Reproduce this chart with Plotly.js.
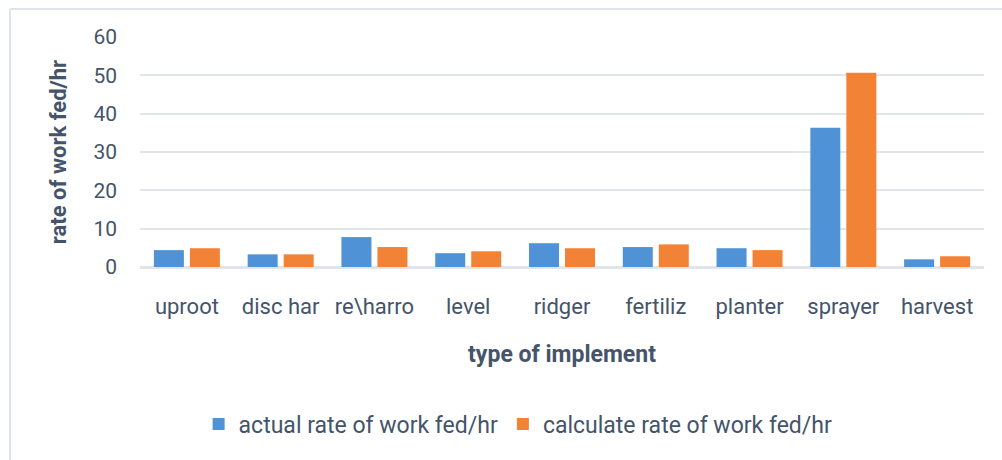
<!DOCTYPE html>
<html>
<head>
<meta charset="utf-8">
<script src="https://cdn.plot.ly/plotly-3.0.1.min.js"></script>
<style>html,body{margin:0;padding:0;background:#fff;}#chart{width:1002px;height:460px;}</style>
</head>
<body>
<div id="chart"></div>
<script>
const categories = ["uproot", "disc har", "re\\harro", "level", "ridger", "fertiliz", "planter", "sprayer", "harvest"];
const actualRate = [4.4, 3.3, 7.8, 3.6, 6.2, 5.2, 4.9, 36.3, 2.0];
const calculateRate = [4.9, 3.3, 5.2, 4.1, 4.9, 5.9, 4.4, 50.7, 2.8];
const seriesNames = ["actual rate of work fed/hr", "calculate rate of work fed/hr"];
const yTicks = [0, 10, 20, 30, 40, 50, 60];

const textColor = "#44546a";
const gridColor = "#e1e5ea";

const traces = [
  {type: "bar", x: categories, y: actualRate, name: seriesNames[0],
   marker: {color: "#4f92d5"}, hoverinfo: "x+y"},
  {type: "bar", x: categories, y: calculateRate, name: seriesNames[1],
   marker: {color: "#f28236"}, hoverinfo: "x+y"}
];

const layout = {
  width: 1002, height: 460,
  margin: {l: 140, r: 18, t: 37, b: 193},
  paper_bgcolor: "#fff", plot_bgcolor: "#fff",
  font: {family: "Roboto, 'Liberation Sans', sans-serif", color: textColor, size: 21},
  barmode: "group", bargap: 0.232, bargroupgap: 0.167,
  showlegend: true,
  legend: {orientation: "h", x: 0.448, xanchor: "center", y: -0.683, yanchor: "middle",
           font: {size: 23, color: textColor}, itemwidth: 30, traceorder: "normal"},
  xaxis: {
    type: "category", tickfont: {size: 22, color: textColor},
    showgrid: false, showline: false, ticks: "", ticklabelstandoff: 24,
    title: {text: "type of implement", font: {size: 23, color: textColor, weight: "bold"}, standoff: 27}
  },
  yaxis: {
    range: [0, 60], tickvals: yTicks, ticktext: yTicks.map(String),
    tickfont: {size: 21, color: textColor},
    showgrid: true, gridcolor: gridColor, gridwidth: 2,
    zeroline: true, zerolinecolor: gridColor, zerolinewidth: 3,
    showline: false, ticks: "", ticklabelstandoff: 22,
    title: {text: "rate of work fed/hr", font: {size: 22, color: textColor, weight: "bold"}, standoff: 20}
  },
  shapes: [
    {type: "line", xref: "paper", yref: "paper", x0: (10-140)/844, x1: 1.1, y0: (267-9)/230, y1: (267-9)/230,
     line: {color: "#dfe3ea", width: 2}},
    {type: "line", xref: "paper", yref: "paper", x0: (10-140)/844, x1: (10-140)/844, y0: (267-9)/230, y1: -1.0,
     line: {color: "#dfe3ea", width: 2}}
  ]
};

Plotly.newPlot("chart", traces, layout, {displayModeBar: false, staticPlot: true});
</script>
</body>
</html>
